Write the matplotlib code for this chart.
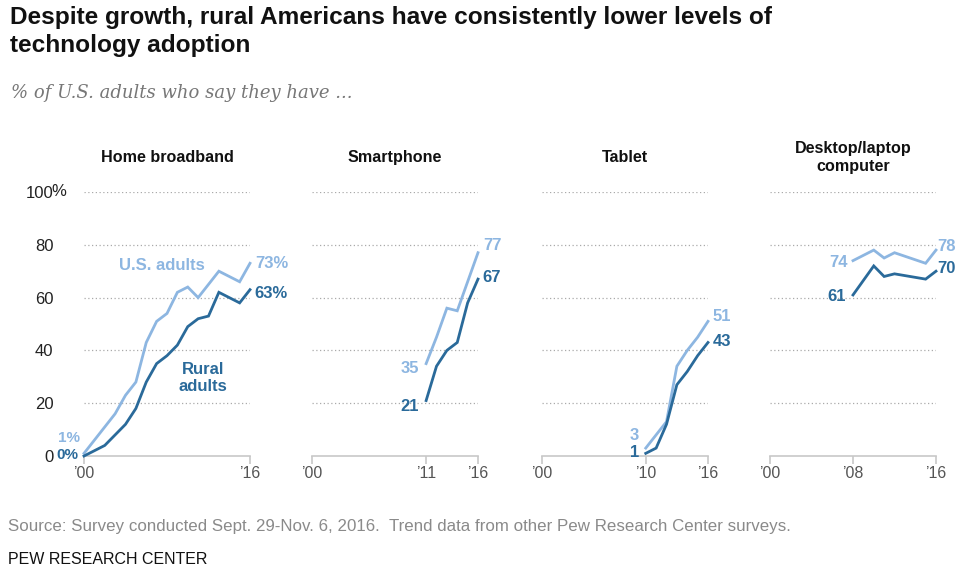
import matplotlib
matplotlib.use("Agg")
import matplotlib.pyplot as plt

plt.rcParams['font.family'] = ['Liberation Sans', 'DejaVu Sans']

LIGHT = '#8db6e1'
DARK = '#2a6a9a'
GRID = '#aaaaaa'

# values (% of adults)
bb_years = [2000, 2001, 2002, 2003, 2004, 2005, 2006, 2007, 2008, 2009, 2010, 2011, 2012, 2013, 2015, 2016]
bb_us = [1, 6, 11, 16, 23, 28, 43, 51, 54, 62, 64, 60, 65, 70, 66, 73]
bb_rural = [0, 2, 4, 8, 12, 18, 28, 35, 38, 42, 49, 52, 53, 62, 58, 63]

sp_years = [2011, 2012, 2013, 2014, 2015, 2016]
sp_us = [35, 45, 56, 55, 66, 77]
sp_rural = [21, 34, 40, 43, 58, 67]

tab_years = [2010, 2011, 2012, 2013, 2014, 2015, 2016]
tab_us = [3, 8, 13, 34, 40, 45, 51]
tab_rural = [1, 3, 12, 27, 32, 38, 43]

pc_years = [2008, 2010, 2011, 2012, 2015, 2016]
pc_us = [74, 78, 75, 77, 73, 78]
pc_rural = [61, 72, 68, 69, 67, 70]

panel_titles = ['Home broadband', 'Smartphone', 'Tablet', 'Desktop/laptop\ncomputer']
start_labels = ["’00", "’11", "’10", "’08"]

fig = plt.figure(figsize=(9.64, 5.87), dpi=100)
W, H = 964, 587

def px_axes(left, top, width, height):
    return fig.add_axes([left / W, 1 - (top + height) / H, width / W, height / H])

panels = [
    (bb_years, bb_us, bb_rural),
    (sp_years, sp_us, sp_rural),
    (tab_years, tab_us, tab_rural),
    (pc_years, pc_us, pc_rural),
]
lefts = [84, 312, 542, 770]
axes = []
for i, (yrs, us, rural) in enumerate(panels):
    ax = px_axes(lefts[i], 192, 166, 264)
    axes.append(ax)
    ax.set_xlim(2000, 2016)
    ax.set_ylim(0, 100)
    for g in [20, 40, 60, 80, 100]:
        ax.axhline(g, color=GRID, lw=0.9, ls=(0, (1, 2)), zorder=1)
    ax.plot(yrs, us, color=LIGHT, lw=2.0, zorder=3, clip_on=False, solid_joinstyle='miter')
    ax.plot(yrs, rural, color=DARK, lw=2.0, zorder=4, clip_on=False, solid_joinstyle='miter')
    for s in ['top', 'right', 'left']:
        ax.spines[s].set_visible(False)
    ax.spines['bottom'].set_color('#c8c8c8')
    ax.spines['bottom'].set_linewidth(1.2)
    ticks = [2000, 2016] if yrs[0] == 2000 else [2000, yrs[0], 2016]
    ax.set_xticks(ticks)
    labels = ["’00", "’16"] if yrs[0] == 2000 else ["’00", start_labels[i], "’16"]
    ax.set_xticklabels(labels)
    ax.tick_params(axis='x', colors='#c8c8c8', length=6, width=1.2, labelcolor='#555555',
                   labelsize=11.5, pad=1.5)
    ax.patch.set_alpha(0)
    if i == 0:
        ax.set_yticks([0, 20, 40, 60, 80, 100])
        ax.set_yticklabels(['0', '20', '40', '60', '80', '100'])
        ax.tick_params(axis='y', length=0, pad=22, labelsize=12, labelcolor='#222222')
        ax.annotate('%', xy=(0, 100), xycoords=('axes fraction', 'data'), xytext=(-23.2, 0),
                    textcoords='offset points', ha='left', va='center', fontsize=12,
                    color='#222222')
    else:
        ax.set_yticks([])
    ax.text(0.5, 1.13, panel_titles[i], transform=ax.transAxes, ha='center', va='center',
            fontsize=11.6, fontweight='bold', color='#111111', linespacing=1.3)

def lab(ax, x, y, s, color, ha, dx, size=12):
    ax.annotate(s, xy=(x, y), xytext=(dx, 0), textcoords='offset points', ha=ha, va='center',
                fontsize=size, fontweight='bold', color=color, annotation_clip=False)

# panel 1
ax = axes[0]
lab(ax, 2016, bb_us[-1], '73%', LIGHT, 'left', 3.5)
lab(ax, 2016, bb_rural[-1] - 1.5, '63%', DARK, 'left', 3.5)
lab(ax, 2000, 7, '1%', LIGHT, 'right', -3, 11)
lab(ax, 2000, 0.5, '0%', DARK, 'right', -4.2, 11)
ax.text(2007.5, 72.3, 'U.S. adults', ha='center', va='center', fontsize=12,
        fontweight='bold', color=LIGHT)
ax.text(2011.5, 29.5, 'Rural\nadults', ha='center', va='center', fontsize=12,
        fontweight='bold', color=DARK, linespacing=1.2)

# panel 2
ax = axes[1]
lab(ax, 2016, 79.7, '77', LIGHT, 'left', 3.5)
lab(ax, 2016, 67.8, '67', DARK, 'left', 3.5)
lab(ax, 2011, 33, '35', LIGHT, 'right', -5)
lab(ax, 2011, 18.7, '21', DARK, 'right', -5)

# panel 3
ax = axes[2]
lab(ax, 2016, 53, '51', LIGHT, 'left', 3.5)
lab(ax, 2016, 43.2, '43', DARK, 'left', 3.5)
lab(ax, 2010, 7.7, '3', LIGHT, 'right', -5)
lab(ax, 2010, 1.5, '1', DARK, 'right', -5)

# panel 4
ax = axes[3]
lab(ax, 2016, 79.3, '78', LIGHT, 'left', 1)
lab(ax, 2016, 71.2, '70', DARK, 'left', 1)
lab(ax, 2008, 73.2, '74', LIGHT, 'right', -4)
lab(ax, 2008, 60.3, '61', DARK, 'right', -5)

fig.text(10 / W, 1 - 6 / H, 'Despite growth, rural Americans have consistently lower levels of\ntechnology adoption',
         ha='left', va='top', fontsize=17.6, fontweight='bold', color='#111111', linespacing=1.3)
fig.text(11 / W, 1 - 93 / H, '% of U.S. adults who say they have ...', ha='left', va='center',
         fontsize=13, style='italic', family=['DejaVu Serif'], color='#777777')
fig.text(8 / W, 1 - 527 / H, 'Source: Survey conducted Sept. 29-Nov. 6, 2016.  Trend data from other Pew Research Center surveys.',
         ha='left', va='center', fontsize=12.2, color='#8a8a8a')
fig.text(8 / W, 1 - 560 / H, 'PEW RESEARCH CENTER', ha='left', va='center', fontsize=11.5,
         color='#111111')

fig.savefig('out.png', dpi=100)
